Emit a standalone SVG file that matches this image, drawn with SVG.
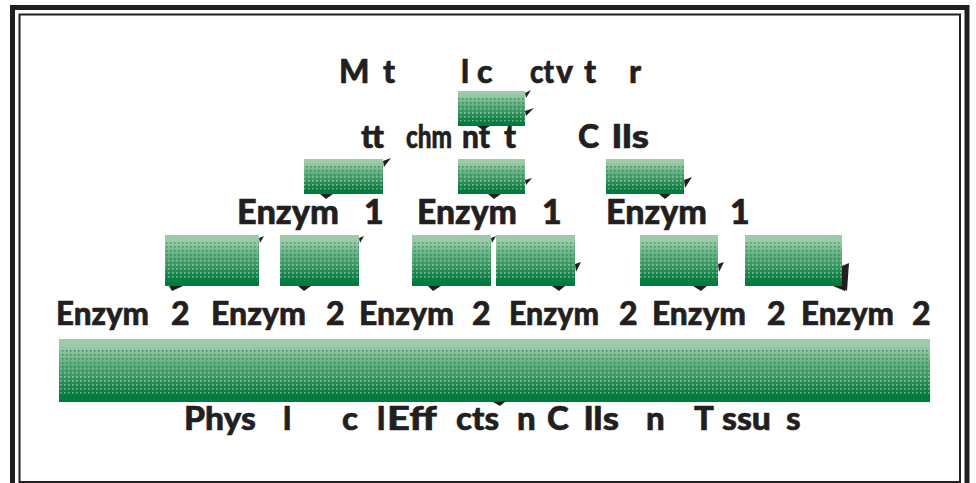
<svg xmlns="http://www.w3.org/2000/svg" width="976" height="483" viewBox="0 0 976 483">
  <defs>
    <!-- vertical shading of the green bars: pale band on top, deep green at the foot -->
    <linearGradient id="greenShade" x1="0" y1="0" x2="0" y2="1">
      <stop offset="0" stop-color="#9fcbab"/>
      <stop offset="0.14" stop-color="#9bc9a8"/>
      <stop offset="0.42" stop-color="#5dab7b"/>
      <stop offset="0.72" stop-color="#1f8a50"/>
      <stop offset="0.88" stop-color="#067d41"/>
      <stop offset="1" stop-color="#007a3d"/>
    </linearGradient>
    <!-- halftone dot screens -->
    <pattern id="dotsLight" width="4" height="4" patternUnits="userSpaceOnUse">
      <rect x="0" y="0" width="1.6" height="1.6" fill="#ffffff"/>
    </pattern>
    <pattern id="dotsDark" width="4" height="4" patternUnits="userSpaceOnUse">
      <rect x="2" y="2" width="1.6" height="1.6" fill="#0a7a40"/>
    </pattern>
    <linearGradient id="fadeLow" x1="0" y1="0" x2="0" y2="1">
      <stop offset="0" stop-color="#000"/>
      <stop offset="0.35" stop-color="#000"/>
      <stop offset="0.6" stop-color="#777"/>
      <stop offset="0.86" stop-color="#666"/>
      <stop offset="0.9" stop-color="#000"/>
      <stop offset="1" stop-color="#000"/>
    </linearGradient>
    <linearGradient id="fadeHigh" x1="0" y1="0" x2="0" y2="1">
      <stop offset="0" stop-color="#000"/>
      <stop offset="0.12" stop-color="#000"/>
      <stop offset="0.16" stop-color="#aaa"/>
      <stop offset="0.45" stop-color="#888"/>
      <stop offset="0.6" stop-color="#000"/>
      <stop offset="1" stop-color="#000"/>
    </linearGradient>
    <mask id="maskLow" maskContentUnits="objectBoundingBox">
      <rect x="0" y="0" width="1" height="1" fill="url(#fadeLow)"/>
    </mask>
    <mask id="maskHigh" maskContentUnits="objectBoundingBox">
      <rect x="0" y="0" width="1" height="1" fill="url(#fadeHigh)"/>
    </mask>
  </defs>
  <style>
    .lbl { font-family: Lato, "Liberation Sans", Arial, sans-serif; font-weight: 900; fill: #231f20; stroke: #231f20; stroke-width: 0.6px; stroke-linejoin: round; }
    .s32 { font-size: 32px; }
    .s33 { font-size: 33px; }
    .s34 { font-size: 34px; }
    .bar { fill: url(#greenShade); }
    .scrL { fill: url(#dotsLight); }
    .scrD { fill: url(#dotsDark); }
    .head { fill: #231f20; }
  </style>

  <rect x="0" y="0" width="976" height="483" fill="#ffffff"/>

  <!-- frame -->
  <g id="frame" fill="none" stroke="#231f20">
    <path d="M12.5 483 V7.5 H967 V483" stroke-width="5"/>
    <rect x="19.5" y="14.5" width="940.5" height="467.5" stroke-width="2"/>
  </g>

  <!-- green bars -->
  <g id="bars">
    <g id="bar-r1">
      <rect class="bar" x="458" y="91" width="67" height="35"/>
      <rect class="scrL" x="458" y="91" width="67" height="35" mask="url(#maskLow)"/>
      <rect class="scrD" x="458" y="91" width="67" height="35" mask="url(#maskHigh)"/>
    </g>
    <g id="bar-r2a">
      <rect class="bar" x="304" y="159" width="79" height="35"/>
      <rect class="scrL" x="304" y="159" width="79" height="35" mask="url(#maskLow)"/>
      <rect class="scrD" x="304" y="159" width="79" height="35" mask="url(#maskHigh)"/>
    </g>
    <g id="bar-r2b">
      <rect class="bar" x="458" y="159" width="67" height="35"/>
      <rect class="scrL" x="458" y="159" width="67" height="35" mask="url(#maskLow)"/>
      <rect class="scrD" x="458" y="159" width="67" height="35" mask="url(#maskHigh)"/>
    </g>
    <g id="bar-r2c">
      <rect class="bar" x="606" y="159" width="78" height="35"/>
      <rect class="scrL" x="606" y="159" width="78" height="35" mask="url(#maskLow)"/>
      <rect class="scrD" x="606" y="159" width="78" height="35" mask="url(#maskHigh)"/>
    </g>
    <g id="bar-r3a">
      <rect class="bar" x="165" y="235" width="94" height="51"/>
      <rect class="scrL" x="165" y="235" width="94" height="51" mask="url(#maskLow)"/>
      <rect class="scrD" x="165" y="235" width="94" height="51" mask="url(#maskHigh)"/>
    </g>
    <g id="bar-r3b">
      <rect class="bar" x="280" y="235" width="79" height="51"/>
      <rect class="scrL" x="280" y="235" width="79" height="51" mask="url(#maskLow)"/>
      <rect class="scrD" x="280" y="235" width="79" height="51" mask="url(#maskHigh)"/>
    </g>
    <g id="bar-r3c">
      <rect class="bar" x="412" y="235" width="79" height="51"/>
      <rect class="scrL" x="412" y="235" width="79" height="51" mask="url(#maskLow)"/>
      <rect class="scrD" x="412" y="235" width="79" height="51" mask="url(#maskHigh)"/>
    </g>
    <g id="bar-r3d">
      <rect class="bar" x="496" y="235" width="79" height="51"/>
      <rect class="scrL" x="496" y="235" width="79" height="51" mask="url(#maskLow)"/>
      <rect class="scrD" x="496" y="235" width="79" height="51" mask="url(#maskHigh)"/>
    </g>
    <g id="bar-r3e">
      <rect class="bar" x="640" y="235" width="78" height="51"/>
      <rect class="scrL" x="640" y="235" width="78" height="51" mask="url(#maskLow)"/>
      <rect class="scrD" x="640" y="235" width="78" height="51" mask="url(#maskHigh)"/>
    </g>
    <g id="bar-r3f">
      <rect class="bar" x="745" y="235" width="97" height="51"/>
      <rect class="scrL" x="745" y="235" width="97" height="51" mask="url(#maskLow)"/>
      <rect class="scrD" x="745" y="235" width="97" height="51" mask="url(#maskHigh)"/>
    </g>
    <g id="bar-r4">
      <rect class="bar" x="59" y="339" width="871" height="63"/>
      <rect class="scrL" x="59" y="339" width="871" height="63" mask="url(#maskLow)"/>
      <rect class="scrD" x="59" y="339" width="871" height="63" mask="url(#maskHigh)"/>
    </g>
  </g>

  <!-- connector heads peeking out from the bars -->
  <g id="connectors">
    <polygon class="head" points="525,93 531,90 526,98"/>
    <polygon class="head" points="525,111 534,108 526,116"/>
    <polygon class="head" points="477,126 490,126 483,130"/>

    <polygon class="head" points="383,161 391,158 384,167"/>
    <polygon class="head" points="320,194 333,194 326,199"/>
    <polygon class="head" points="525,180 532,178 526,185"/>
    <polygon class="head" points="488,194 501,194 494,199"/>
    <polygon class="head" points="684,180 692,177 685,188"/>
    <polygon class="head" points="659,194 671,194 665,199"/>

    <polygon class="head" points="259,238 264,236 260,243"/>
    <polygon class="head" points="169,286 183,286 172,291"/>
    <polygon class="head" points="359,238 364,236 360,243"/>
    <polygon class="head" points="298,286 311,286 304,291"/>
    <polygon class="head" points="491,238 496,236 492,243"/>
    <polygon class="head" points="428,286 441,286 433,291"/>
    <polygon class="head" points="575,264 581,262 576,272"/>
    <polygon class="head" points="552,286 565,286 559,291"/>
    <polygon class="head" points="718,264 724,262 719,272"/>
    <polygon class="head" points="693,286 707,286 701,291"/>
    <polygon class="head" points="842,266 849,263 847,291 842,287"/>
    <polygon class="head" points="833,286 846,286 845,291"/>

    <polygon class="head" points="493,402 506,401 500,406"/>
  </g>

  <!-- labels: visible fragments placed one by one -->
  <g id="label-activator">
    <text class="lbl s32" y="83"><tspan x="339">M</tspan> <tspan x="383">t</tspan> <tspan x="461">l</tspan> <tspan x="477">c</tspan> <tspan x="530" textLength="24" lengthAdjust="spacingAndGlyphs">ct</tspan><tspan x="556">v</tspan> <tspan x="584">t</tspan> <tspan x="629">r</tspan></text>
  </g>
  <g id="label-attachment">
    <text class="lbl s32" y="148"><tspan x="361" textLength="23" lengthAdjust="spacingAndGlyphs">tt</tspan></text>
    <text class="lbl s32" transform="translate(406 148) scale(0.76 1)">chm</text>
    <text class="lbl s32" y="148"><tspan x="462" textLength="28" lengthAdjust="spacingAndGlyphs">nt</tspan> <tspan x="504">t</tspan> <tspan x="578">C</tspan> <tspan x="612" textLength="37" lengthAdjust="spacingAndGlyphs">lls</tspan></text>
  </g>
  <g id="label-enzyme1-a">
    <text class="lbl s34" y="224"><tspan x="237" textLength="102" lengthAdjust="spacingAndGlyphs">Enzym</tspan> <tspan x="364">1</tspan></text>
  </g>
  <g id="label-enzyme1-b">
    <text class="lbl s34" y="224"><tspan x="417" textLength="100" lengthAdjust="spacingAndGlyphs">Enzym</tspan> <tspan x="542">1</tspan></text>
  </g>
  <g id="label-enzyme1-c">
    <text class="lbl s34" y="224"><tspan x="606" textLength="101" lengthAdjust="spacingAndGlyphs">Enzym</tspan> <tspan x="730">1</tspan></text>
  </g>
  <g id="label-enzyme2-a">
    <text class="lbl s32" y="325"><tspan x="56" textLength="93" lengthAdjust="spacingAndGlyphs">Enzym</tspan> <tspan x="171">2</tspan></text>
  </g>
  <g id="label-enzyme2-b">
    <text class="lbl s32" y="325"><tspan x="211" textLength="95" lengthAdjust="spacingAndGlyphs">Enzym</tspan> <tspan x="326">2</tspan></text>
  </g>
  <g id="label-enzyme2-c">
    <text class="lbl s32" y="325"><tspan x="359" textLength="95" lengthAdjust="spacingAndGlyphs">Enzym</tspan> <tspan x="472">2</tspan></text>
  </g>
  <g id="label-enzyme2-d">
    <text class="lbl s32" y="325"><tspan x="509" textLength="90" lengthAdjust="spacingAndGlyphs">Enzym</tspan> <tspan x="619">2</tspan></text>
  </g>
  <g id="label-enzyme2-e">
    <text class="lbl s32" y="325"><tspan x="652" textLength="94" lengthAdjust="spacingAndGlyphs">Enzym</tspan> <tspan x="767">2</tspan></text>
  </g>
  <g id="label-enzyme2-f">
    <text class="lbl s32" y="325"><tspan x="801" textLength="93" lengthAdjust="spacingAndGlyphs">Enzym</tspan> <tspan x="912">2</tspan></text>
  </g>
  <g id="label-effects">
    <text class="lbl s33" y="430"><tspan x="184" textLength="72" lengthAdjust="spacingAndGlyphs">Phys</tspan> <tspan x="283">l</tspan> <tspan x="342">c</tspan> <tspan x="377">l</tspan><tspan x="387" textLength="49" lengthAdjust="spacingAndGlyphs">Eff</tspan> <tspan x="456" textLength="43" lengthAdjust="spacingAndGlyphs">cts</tspan> <tspan x="517">n</tspan> <tspan x="547">C</tspan> <tspan x="584" textLength="35" lengthAdjust="spacingAndGlyphs">lls</tspan> <tspan x="646">n</tspan> <tspan x="694">T</tspan> <tspan x="722" textLength="49" lengthAdjust="spacingAndGlyphs">ssu</tspan> <tspan x="786">s</tspan></text>
  </g>
</svg>
